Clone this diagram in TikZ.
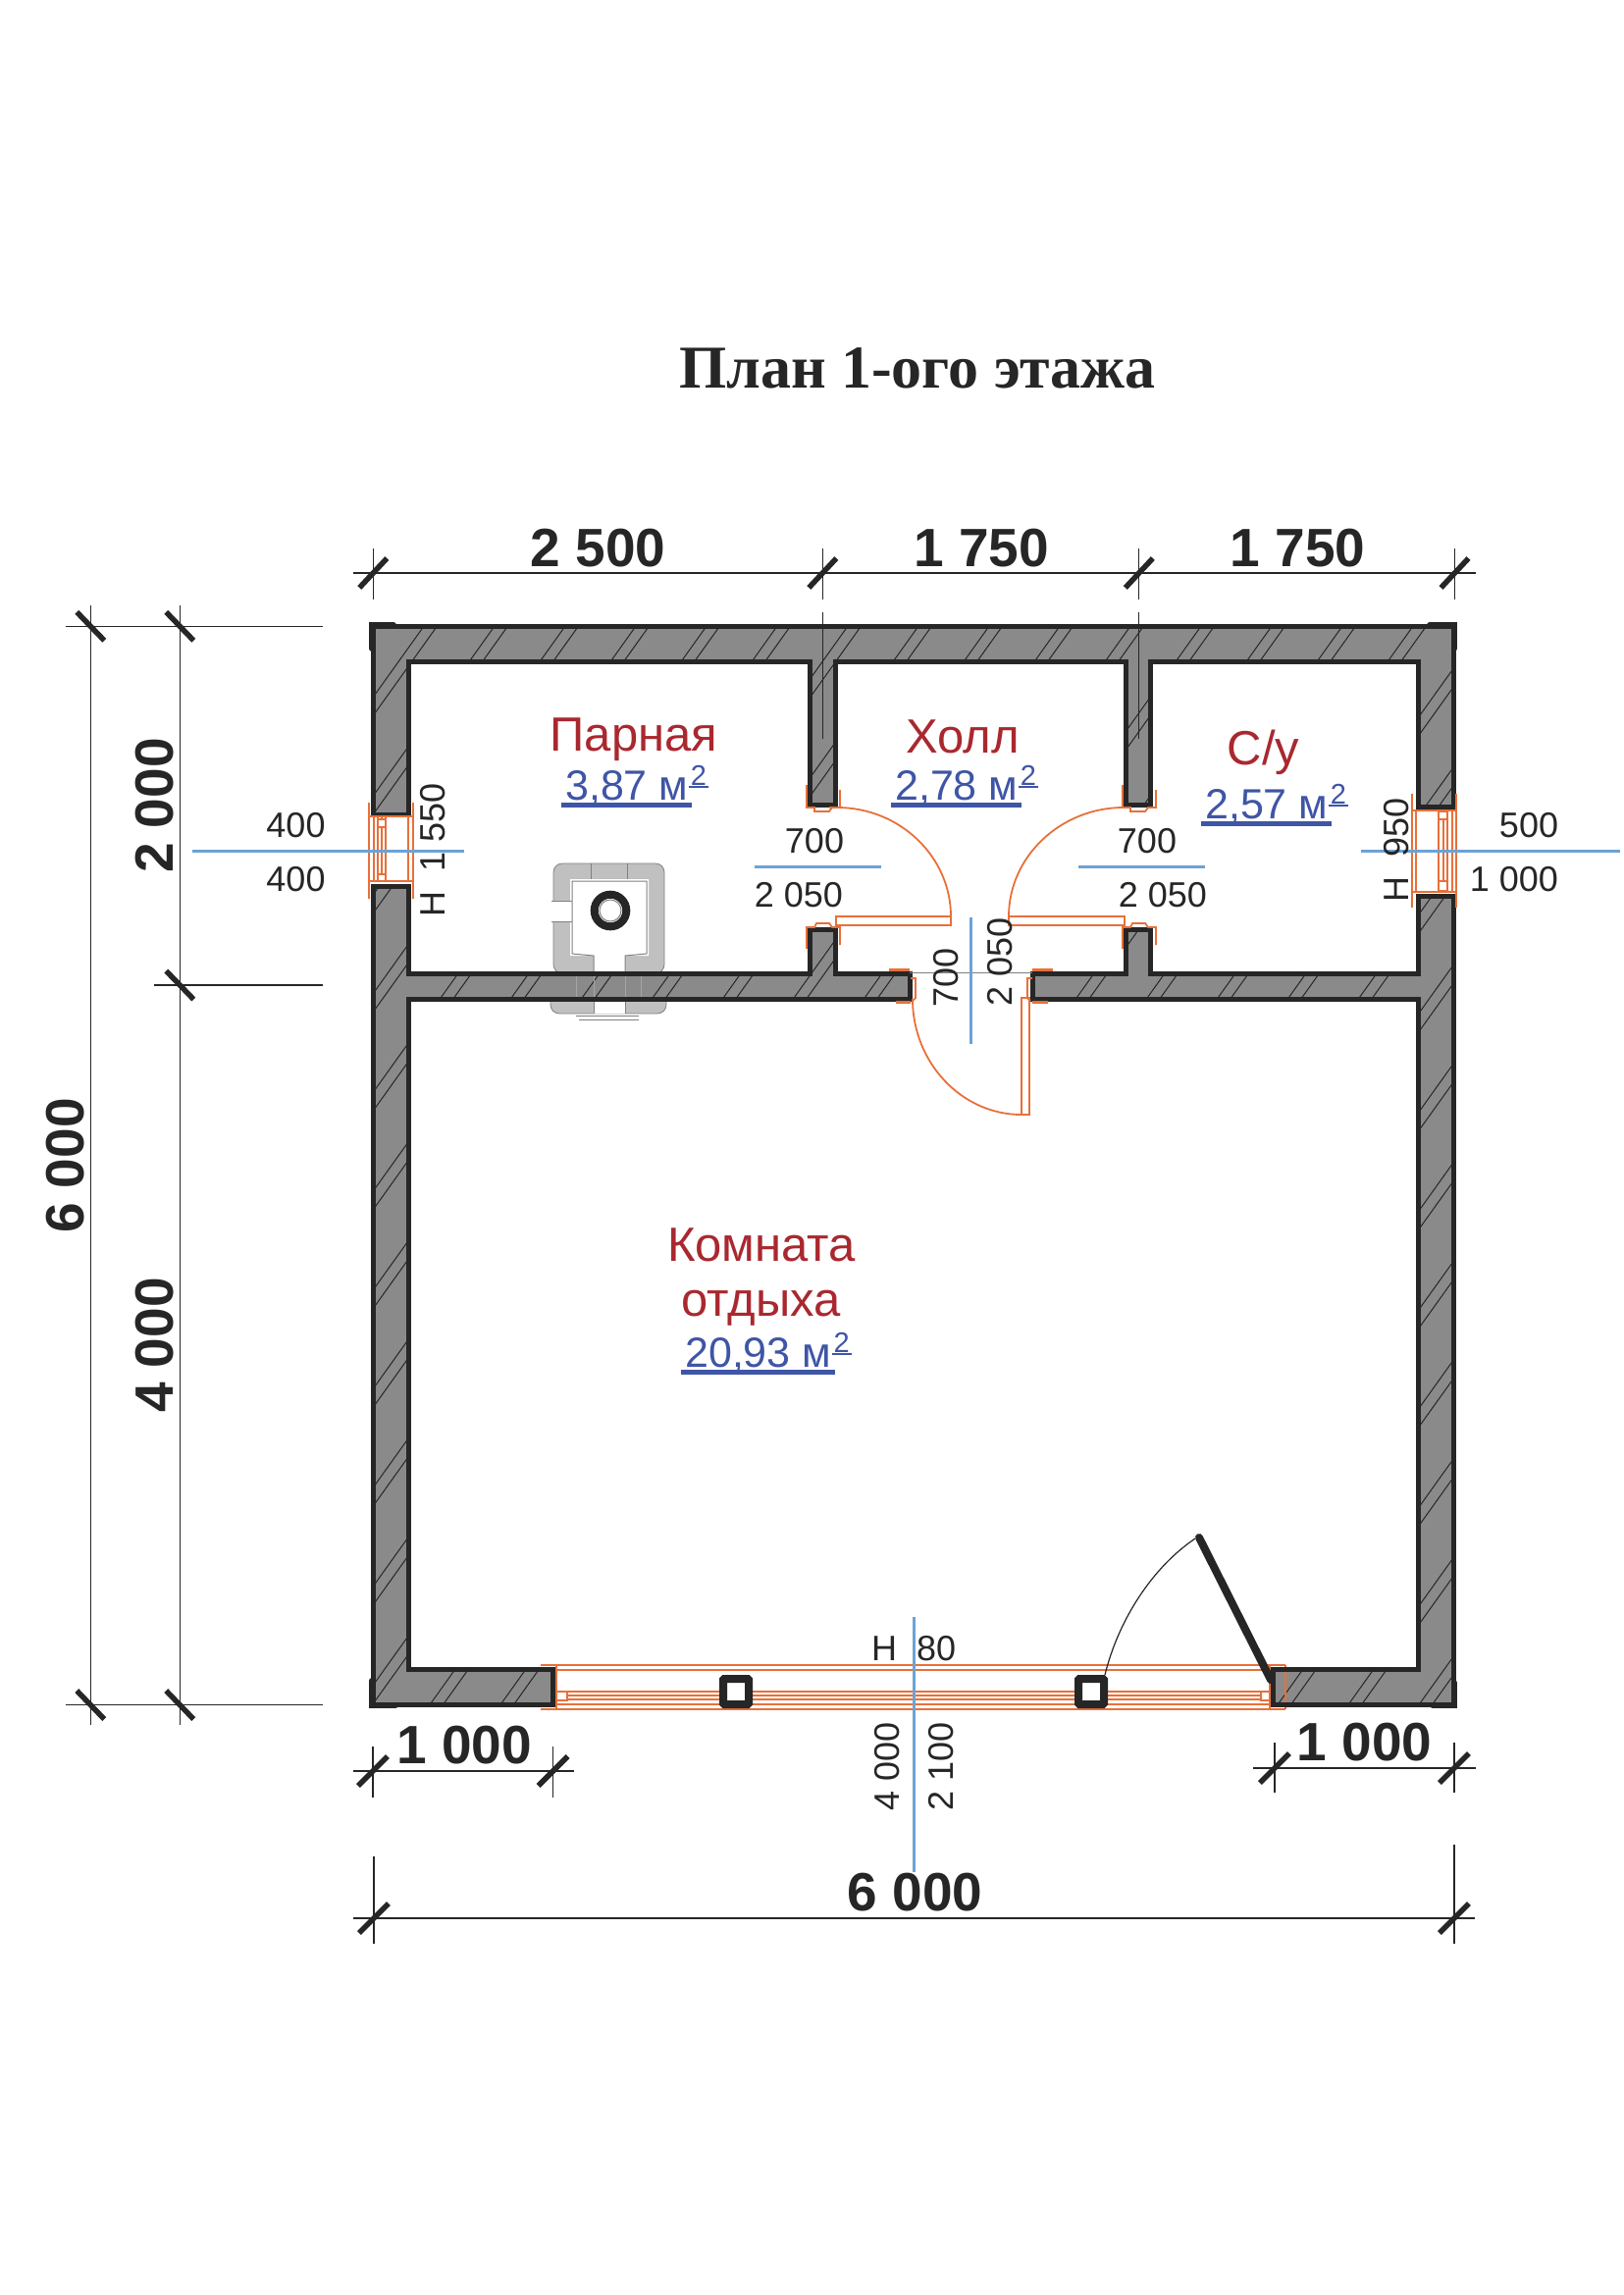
\documentclass[tikz,border=0pt]{standalone}
\usepackage{fontspec}
\setmainfont{Liberation Sans}
\newfontfamily\titlefont{Liberation Serif}
\definecolor{ink}{HTML}{262626}
\definecolor{wallgray}{HTML}{8A8A8A}
\definecolor{framec}{HTML}{E8703A}
\definecolor{axisc}{HTML}{6BA3D6}
\definecolor{roomc}{HTML}{A9282F}
\definecolor{areac}{HTML}{3F55A5}
\definecolor{stovec}{HTML}{C0C0C0}
\tikzset{
  wallpieces/.style={insert path={
    (380.5,830) -- (380.5,638.5) -- (1481,638.5) -- (1481,822) -- (1445,822) -- (1445,674.5)
    -- (1172.5,674.5) -- (1172.5,820) -- (1147.5,820) -- (1147.5,674.5)
    -- (851,674.5) -- (851,820) -- (825.5,820) -- (825.5,674.5) -- (416,674.5) -- (416,830) -- cycle
    (380.5,903) -- (380.5,1737) -- (563.6,1737) -- (563.6,1701) -- (416,1701) -- (416,1018)
    -- (927,1018) -- (927,992) -- (851,992) -- (851,947) -- (825.5,947) -- (825.5,992)
    -- (416,992) -- (416,903) -- cycle
    (1481,913) -- (1481,1737) -- (1297,1737) -- (1297,1701) -- (1445,1701) -- (1445,1018)
    -- (1052,1018) -- (1052,992) -- (1147.5,992) -- (1147.5,947) -- (1172.5,947) -- (1172.5,992)
    -- (1445,992) -- (1445,913) -- cycle}},
  wallline/.style={draw=ink,line width=5pt,miter limit=4},
  thinline/.style={draw=ink,line width=1.1pt},
  slash/.style={draw=ink,line width=5.5pt},
  cornerline/.style={draw=ink,line width=6pt,line cap=round},
  frameline/.style={draw=framec,line width=1.8pt},
  glassline/.style={draw=framec,line width=2.6pt},
  axisline/.style={draw=axisc,line width=3pt},
  stoveline/.style={draw=gray,line width=1pt},
  bigdim/.style={font=\fontsize{55}{55}\selectfont\bfseries,text=ink,inner sep=0pt,anchor=base},
  smalldim/.style={font=\fontsize{36}{36}\selectfont,text=ink,inner sep=0pt,anchor=base},
  roomname/.style={font=\fontsize{49}{49}\selectfont,text=roomc,inner sep=0pt,anchor=base},
  areatext/.style={font=\fontsize{43}{43}\selectfont,text=areac,inner sep=0pt,anchor=base west},
  areasup/.style={font=\fontsize{29}{29}\selectfont,text=areac,inner sep=0pt,anchor=base west},
}
\begin{document}
\begin{tikzpicture}[x=1pt,y=-1pt]
  \useasboundingbox (0,0) rectangle (1654,2339);
  % title
  \node[font=\titlefont\fontsize{62}{62}\selectfont\bfseries,text=ink,inner sep=0pt,anchor=base] (title) at (935,395) {План 1-ого этажа};
  % stove
  \filldraw[fill=stovec,draw=gray,line width=.8pt,rounded corners=9pt] (564,992) -- (564,880) -- (677,880) -- (677,992) -- cycle;
  \filldraw[fill=stovec,draw=gray,line width=.8pt,rounded corners=9pt] (561,1010) -- (561,1033) -- (679,1033) -- (679,1010) -- cycle;
  \fill[white] (581,896) -- (661,896) -- (661,974) -- (637,974) -- (637,1033) -- (605,1033) -- (605,974) -- (581,974) -- cycle;
  \draw[stoveline] (605,992) -- (605,974) -- (583,972) -- (583,898) -- (659,898) -- (659,972) -- (637,974) -- (637,992);
  \fill[white] (562,918) rectangle (581,939);
  \draw[stoveline] (562,918) -- (583,918) (562,939) -- (583,939) (602,880) -- (602,896) (639,880) -- (639,896);
  \draw[stoveline] (605,1018) -- (605,1033) (637,1018) -- (637,1033) (587,1035) -- (651,1035) (590,1039) -- (651,1039);
  \draw[ink,line width=8pt] (622,928) circle[radius=16.3pt];
  \draw[stoveline] (622,928) circle[radius=11pt];
  % walls
  \fill[wallgray,wallpieces];
  \begin{scope}
    \clip[wallpieces];
    \foreach \c in {840,876,...,2740}
      \draw[ink,line width=1pt] ({\c+13*sin(\c*5)-428},600) -- ({\c+13*sin(\c*5)-1286},1800);
    \draw[gray!70!white,line width=1pt] (587,992) -- (587,1018) (605,992) -- (605,1018) (637,992) -- (637,1018) (653,992) -- (653,1018);
  \end{scope}
  % extension lines inside the top wall
  \draw[thinline] (838.3,624) -- (838.3,753) (1160.8,624) -- (1160.8,753);
  % glazing
  \foreach \y in {1697,1702,1737,1742}
    \draw[glassline] (551,\y) -- (1310,\y);
  \foreach \y in {1724,1728,1732}
    \draw[glassline] (567,\y) -- (1294,\y);
  \draw[frameline] (567,1697) -- (567,1742) (1294,1697) -- (1294,1742) (1310,1697) -- (1310,1742);
  \filldraw[fill=white,draw=framec,line width=1.5pt] (567,1724) rectangle (578,1733);
  \filldraw[fill=white,draw=framec,line width=1.5pt] (1285,1724) rectangle (1294,1733);
  \draw[wallline,wallpieces];
  \draw[cornerline] (379,661) -- (379,637) -- (401,637);
  \draw[cornerline] (1457,637) -- (1482,637) -- (1482,661);
  \draw[cornerline] (379,1713) -- (379,1738) -- (403,1738);
  \draw[cornerline] (1460,1738) -- (1482,1738) -- (1482,1715);
  % columns and entry door
  \foreach \x in {750,1112}
    \filldraw[fill=white,draw=ink,line width=8pt,rounded corners=1pt] (\x-13,1711) rectangle (\x+13,1737);
  \draw[ink,line width=8pt,line cap=round] (1222,1567) -- (1295,1712);
  \draw[ink,line width=1.2pt] (1126,1707) .. controls (1140,1650) and (1175,1597) .. (1218,1568);
  % left window
  \draw[frameline] (376,818) -- (376,916) (421,818) -- (421,916) (376,832) -- (421,832) (376,898) -- (421,898);
  \foreach \x in {381,385,389,393,416}
    \draw[frameline] (\x,832) -- (\x,898);
  \filldraw[fill=white,draw=framec,line width=1.5pt] (385,835) rectangle (393,843);
  \filldraw[fill=white,draw=framec,line width=1.5pt] (385,891) rectangle (393,898);
  % right window
  \draw[frameline] (1439,809) -- (1439,925) (1484,809) -- (1484,925) (1439,826) -- (1484,826) (1439,909) -- (1484,909);
  \foreach \x in {1443,1466,1471,1475,1480}
    \draw[frameline] (\x,826) -- (\x,909);
  \filldraw[fill=white,draw=framec,line width=1.5pt] (1466,827) rectangle (1475,835);
  \filldraw[fill=white,draw=framec,line width=1.5pt] (1466,898) rectangle (1475,908);
  % inner doors
  \foreach \x in {0,322} {
    \draw[frameline] (822+\x,800) -- (822+\x,823) -- (830+\x,823) -- (830+\x,827) -- (845+\x,827) -- (848+\x,823) -- (856+\x,823) -- (856+\x,805);
    \draw[frameline] (822+\x,967) -- (822+\x,945) -- (830+\x,945) -- (832+\x,941) -- (845+\x,941) -- (848+\x,945) -- (856+\x,945) -- (856+\x,963);
  }
  \draw[frameline] (852,934) rectangle (969,943);
  \draw[frameline] (969,934) .. controls (969,873) and (917,823) .. (853,823) -- (845,823);
  \draw[frameline] (1028,934) rectangle (1146,943);
  \draw[frameline] (1028,934) .. controls (1028,873) and (1081,823) .. (1145,823) -- (1152,823);
  % hall door
  \draw[gray,line width=1pt] (927,991) -- (1052,991);
  \draw[framec,line width=3pt] (906,988) -- (927,988) (1052,988) -- (1073,988) (913,1021) -- (928,1021) (1052,1021) -- (1068,1021);
  \draw[frameline] (928,997) -- (933,997) -- (933,1017) -- (930,1020) (1052,997) -- (1047,997) -- (1047,1017) -- (1050,1020);
  \draw[frameline] (1041,1017) rectangle (1049,1136);
  \draw[frameline] (930,1018) .. controls (930,1083) and (980,1136) .. (1041,1136);
  % axis lines
  \draw[axisline] (196,867) -- (473,867);
  \draw[axisline] (1387,867) -- (1651,867);
  \draw[axisline] (769,883) -- (898,883);
  \draw[axisline] (1099,883) -- (1228,883);
  \draw[axisline] (989,935) -- (989,1064);
  \draw[axisline] (931,1648) -- (931,1908);
  % dimensions, top
  \draw[thinline] (360,584) -- (1504,584);
  \foreach \x in {380.3,838.3,1160.8,1482.5} {
    \draw[thinline] (\x,559) -- (\x,611);
    \draw[slash] (\x-14,599) -- (\x+14,569);
  }
  \node[bigdim] (dimA) at (609.5,577) {2 500};
  \node[bigdim] (dimB) at (1000,577) {1 750};
  \node[bigdim] (dimC) at (1322.5,577) {1 750};
  % dimensions, left
  \draw[thinline] (66.7,638.3) -- (329,638.3) (157,1004) -- (329,1004) (66.7,1737.6) -- (329,1737.6);
  \draw[thinline] (92.3,617) -- (92.3,1757.7) (183.3,617) -- (183.3,1757.7);
  \foreach \x/\y in {92.3/638.3,183.3/638.3,183.3/1004,92.3/1737.6,183.3/1737.6}
    \draw[slash] (\x-14,\y-14.5) -- (\x+14,\y+14.5);
  \node[bigdim,rotate=90] (dimD) at (176,821) {2 000};
  \node[bigdim,rotate=90] (dimE) at (85.7,1188) {6 000};
  \node[bigdim,rotate=90] (dimF) at (176,1371) {4 000};
  % dimensions, bottom
  \draw[thinline] (360,1805) -- (585,1805) (380,1780) -- (380,1832) (563.6,1780) -- (563.6,1832);
  \draw[thinline] (1277,1802) -- (1504,1802) (1299,1776) -- (1299,1827) (1482,1776) -- (1482,1827);
  \draw[thinline] (360,1955) -- (1503,1955) (381,1892) -- (381,1981) (1482,1880) -- (1482,1981);
  \foreach \x/\y in {380/1805,563.6/1805,1299/1802,1482/1802,381/1955,1482/1955}
    \draw[slash] (\x-15,\y+15) -- (\x+15,\y-15);
  \node[bigdim] (dimG) at (473,1797) {1 000};
  \node[bigdim] (dimH) at (1390.5,1794) {1 000};
  \node[bigdim] (dimJ) at (932.5,1947) {6 000};
  % openings
  \node[smalldim] (winA) at (301.5,853) {400};
  \node[smalldim] (winB) at (301.5,908) {400};
  \node[smalldim,rotate=90] (winC) at (453,866) {H \ 1 550};
  \node[smalldim] (winD) at (1558,853) {500};
  \node[smalldim] (winE) at (1543,908) {1 000};
  \node[smalldim,rotate=90] (winF) at (1435,866.5) {H \ 950};
  \node[smalldim] (doorA) at (830,869) {700};
  \node[smalldim] (doorB) at (814,924) {2 050};
  \node[smalldim] (doorC) at (1169,869) {700};
  \node[smalldim] (doorD) at (1185,924) {2 050};
  \node[smalldim,rotate=90] (doorE) at (976,996) {700};
  \node[smalldim,rotate=90] (doorF) at (1031,980) {2 050};
  \node[smalldim,anchor=base west] (entryA) at (888,1692) {H \ 80};
  \node[smalldim,rotate=90] (entryB) at (916,1800) {4 000};
  \node[smalldim,rotate=90] (entryC) at (971.5,1800) {2 100};
  % rooms
  \node[roomname] (steam) at (646,765) {Парная};
  \node[roomname] (hall) at (981,767) {Холл};
  \node[roomname] (wc) at (1287.5,779) {С/у};
  \node[roomname] (restA) at (776,1285) {Комната};
  \node[roomname] (restB) at (775.5,1341.7) {отдыха};
  \foreach \n/\x/\y/\t in {areaA/576/815/{3,87 м},areaB/912/815/{2,78 м},areaC/1228/834/{2,57 м},areaD/698/1393/{20,93 м}} {
    \node[areatext] (\n) at (\x,\y) {\t};
    \node[areasup] (\n s) at ([xshift=2pt,yshift=15pt]\n.base east) {2};
    \draw[areac,line width=4.5pt] ([xshift=-4pt,yshift=-5.5pt]\n.base west) -- ([xshift=3pt,yshift=-5.5pt]\n.base east);
    \draw[areac,line width=2pt] ([xshift=-2pt,yshift=-2pt]\n s.base west) -- ([xshift=2pt,yshift=-2pt]\n s.base east);
  }
\end{tikzpicture}
\end{document}
